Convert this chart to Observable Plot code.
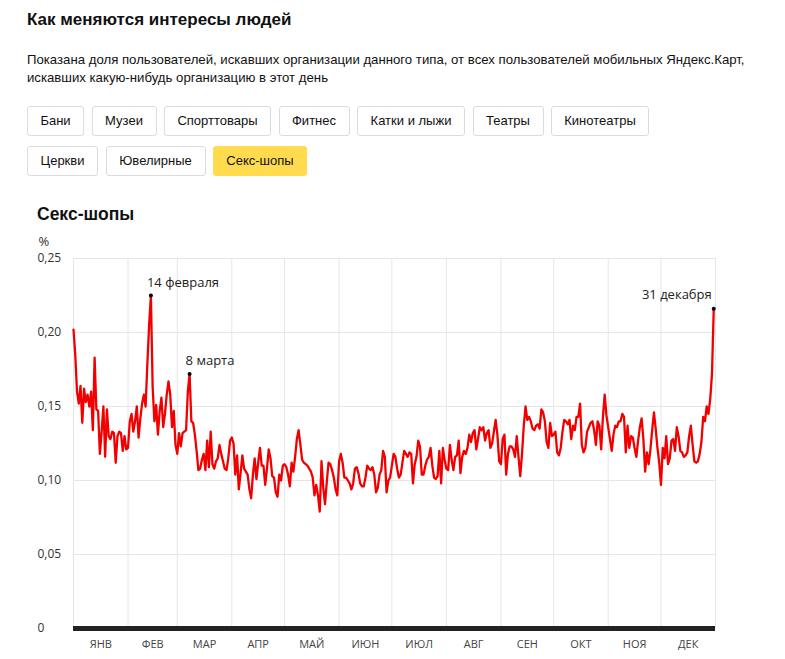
<!DOCTYPE html>
<html>
<head>
<meta charset="utf-8">
<script src="https://cdn.jsdelivr.net/npm/d3@7"></script>
<script src="https://cdn.jsdelivr.net/npm/@observablehq/plot@0.6"></script>
<style>
  html, body { margin: 0; padding: 0; background: #fff; }
  body { width: 785px; height: 659px; position: relative; overflow: hidden; font-family: "Liberation Sans", Arial, sans-serif; color: #111; }
  #title { position: absolute; left: 27px; top: 10px; font-size: 17px; font-weight: bold; }
  #subtitle { position: absolute; left: 27px; top: 51px; font-size: 13.2px; line-height: 17.5px; width: 760px; }
  .btn { position: absolute; height: 30px; box-sizing: border-box; border: 1px solid #dcdcdc; border-radius: 3px; font-size: 13px; line-height: 28px; text-align: center; background: #fff; white-space: nowrap; }
  .btn.active { background: #ffdb4d; border-color: #ffdb4d; }
  #ctitle { position: absolute; left: 37px; top: 204px; font-size: 17.5px; font-weight: bold; }
  #chart { position: absolute; left: 0; top: 226px; }
</style>
</head>
<body>
<div id="title">Как меняются интересы людей</div>
<div id="subtitle">Показана доля пользователей, искавших организации данного типа, от всех пользователей мобильных Яндекс.Карт,<br>искавших какую-нибудь организацию в этот день</div>
<div id="buttons"></div>
<div id="ctitle">Секс-шопы</div>
<div id="chart"></div>
<script>
// Category buttons
const categories = ["Бани", "Музеи", "Спорттовары", "Фитнес", "Катки и лыжи", "Театры", "Кинотеатры", "Церкви", "Ювелирные", "Секс-шопы"];
const activeCategory = "Секс-шопы";

// Daily share of users (%), 2019, by month
const jan = [0.202,0.185,0.160,0.152,0.164,0.139,0.162,0.153,0.158,0.150,0.160,0.134,0.183,0.148,0.147,0.118,0.133,0.150,0.116,0.148,0.130,0.128,0.133,0.132,0.112,0.130,0.133,0.132,0.120,0.130,0.121];
const feb = [0.122,0.140,0.145,0.133,0.140,0.150,0.129,0.142,0.152,0.158,0.150,0.179,0.205,0.225,0.163,0.140,0.151,0.131,0.147,0.156,0.136,0.145,0.158,0.167,0.158,0.136,0.147,0.124];
const mar = [0.118,0.132,0.123,0.132,0.133,0.134,0.160,0.172,0.140,0.139,0.131,0.120,0.107,0.108,0.114,0.118,0.107,0.127,0.109,0.133,0.111,0.108,0.113,0.115,0.124,0.118,0.113,0.108,0.107,0.115,0.127];
const apr = [0.129,0.125,0.104,0.117,0.094,0.105,0.117,0.108,0.106,0.104,0.094,0.088,0.104,0.115,0.101,0.112,0.122,0.110,0.110,0.097,0.108,0.121,0.115,0.103,0.102,0.092,0.089,0.104,0.100,0.110];
const may = [0.111,0.109,0.104,0.096,0.112,0.106,0.116,0.128,0.134,0.124,0.114,0.112,0.111,0.110,0.108,0.106,0.102,0.090,0.097,0.090,0.079,0.113,0.095,0.084,0.099,0.112,0.111,0.107,0.102,0.094,0.090];
const jun = [0.113,0.118,0.112,0.102,0.102,0.100,0.098,0.094,0.098,0.108,0.109,0.105,0.098,0.096,0.096,0.102,0.110,0.108,0.107,0.109,0.104,0.092,0.095,0.104,0.107,0.120,0.116,0.092,0.100,0.102];
const jul = [0.110,0.118,0.116,0.108,0.102,0.104,0.112,0.120,0.118,0.116,0.119,0.118,0.098,0.111,0.116,0.127,0.123,0.104,0.104,0.110,0.114,0.116,0.122,0.110,0.102,0.101,0.103,0.120,0.098,0.122,0.114];
const aug = [0.108,0.107,0.124,0.114,0.107,0.116,0.117,0.127,0.105,0.116,0.120,0.118,0.122,0.131,0.126,0.132,0.134,0.121,0.128,0.136,0.134,0.136,0.127,0.132,0.134,0.122,0.125,0.133,0.141,0.131,0.113];
const sep = [0.111,0.128,0.131,0.104,0.118,0.123,0.123,0.121,0.116,0.130,0.116,0.103,0.118,0.137,0.150,0.141,0.143,0.140,0.135,0.134,0.137,0.138,0.135,0.148,0.146,0.140,0.126,0.122,0.139,0.130];
const oct = [0.131,0.133,0.119,0.117,0.122,0.133,0.141,0.140,0.138,0.141,0.128,0.137,0.134,0.143,0.143,0.152,0.124,0.119,0.122,0.133,0.136,0.139,0.140,0.134,0.124,0.140,0.137,0.121,0.143,0.158,0.144];
const nov = [0.136,0.128,0.120,0.131,0.137,0.136,0.140,0.140,0.145,0.143,0.119,0.137,0.122,0.130,0.129,0.122,0.116,0.127,0.136,0.142,0.128,0.106,0.119,0.111,0.121,0.134,0.146,0.135,0.122,0.112];
const dec = [0.097,0.122,0.115,0.130,0.111,0.115,0.127,0.128,0.120,0.136,0.130,0.120,0.119,0.116,0.117,0.119,0.130,0.137,0.124,0.113,0.112,0.113,0.118,0.126,0.143,0.140,0.150,0.145,0.155,0.172,0.216];

const months = [jan, feb, mar, apr, may, jun, jul, aug, sep, oct, nov, dec];
const monthLabels = ["ЯНВ", "ФЕВ", "МАР", "АПР", "МАЙ", "ИЮН", "ИЮЛ", "АВГ", "СЕН", "ОКТ", "НОЯ", "ДЕК"];
const yTicks = [0, 0.05, 0.10, 0.15, 0.20, 0.25];
const yTickLabels = ["0", "0,05", "0,10", "0,15", "0,20", "0,25"];

// Annotations
const noteLabels = ["14 февраля", "8 марта", "31 декабря"];
const noteMonths = [1, 2, 11];
const noteDays = [14, 8, 31];

// Buttons
const btnRows = [[0, 1, 2, 3, 4, 5, 6], [7, 8, 9]];
const btnContainer = document.getElementById("buttons");
const measurer = document.createElement("canvas").getContext("2d");
measurer.font = '13px "Liberation Sans", Arial, sans-serif';
btnRows.forEach((row, r) => {
  let x = 27;
  row.forEach(i => {
    const el = document.createElement("div");
    el.className = "btn" + (categories[i] === activeCategory ? " active" : "");
    el.textContent = categories[i];
    const w = Math.round(measurer.measureText(categories[i]).width + 27);
    el.style.left = x + "px";
    el.style.top = (r === 0 ? 106 : 146) + "px";
    el.style.width = w + "px";
    btnContainer.appendChild(el);
    x += w + 7.5;
  });
});

// Build table
const data = [];
months.forEach((vals, m) => {
  vals.forEach((v, d) => data.push({date: new Date(Date.UTC(2019, m, d + 1)), value: v}));
});
const notes = noteLabels.map((label, i) => {
  const date = new Date(Date.UTC(2019, noteMonths[i], noteDays[i]));
  const row = data.find(d => +d.date === +date);
  return {label, date, value: row.value, anchor: i === 2 ? "end" : "start"};
});
const monthStarts = d3.range(13).map(m => new Date(Date.UTC(2019, m, 1)));
const monthMids = d3.range(12).map(m => new Date((Date.UTC(2019, m, 1) + Date.UTC(2019, m + 1, 1)) / 2));

const font = '"Open Sans", "Liberation Sans", sans-serif';
const chart = Plot.plot({
  width: 785,
  height: 433,
  marginLeft: 73,
  marginRight: 70,
  marginTop: 32,
  marginBottom: 31,
  style: {fontFamily: font, background: "#fff", overflow: "visible"},
  x: {type: "utc", domain: [monthStarts[0], monthStarts[12]]},
  y: {domain: [0, 0.25]},
  marks: [
    Plot.gridY(yTicks, {stroke: "#e6e6e6", strokeOpacity: 1, strokeWidth: 1}),
    Plot.gridX(monthStarts, {stroke: "#e6e6e6", strokeOpacity: 1, strokeWidth: 1}),
    Plot.axisY(yTicks, {tickSize: 0, tickPadding: 0, textAnchor: "start", dx: -36, fontSize: 12, fill: "#333", label: null, tickFormat: d => yTickLabels[yTicks.indexOf(d)]}),
    Plot.axisX(monthMids, {tickSize: 0, tickPadding: 12, fontSize: 11, fill: "#444", label: null, tickFormat: d => monthLabels[d.getUTCMonth()]}),
    Plot.ruleY([0], {stroke: "#222", strokeWidth: 5}),
    Plot.line(data, {x: "date", y: "value", stroke: "#f20000", strokeWidth: 2.3, curve: "linear"}),
    Plot.dot(notes, {x: "date", y: "value", r: 2, fill: "#000"}),
    Plot.text(notes.filter(d => d.anchor === "start"), {x: "date", y: "value", text: "label", textAnchor: "start", dx: -4, dy: -13, fontSize: 13, fill: "#222"}),
    Plot.text(notes.filter(d => d.anchor === "end"), {x: "date", y: "value", text: "label", textAnchor: "end", dx: -2, dy: -14, fontSize: 13, fill: "#222"}),
    Plot.text(["%"], {frameAnchor: "top-left", text: d => d, textAnchor: "start", dx: -35, dy: -22, fontSize: 13, fill: "#333"})
  ]
});
document.getElementById("chart").appendChild(chart);
</script>
</body>
</html>
